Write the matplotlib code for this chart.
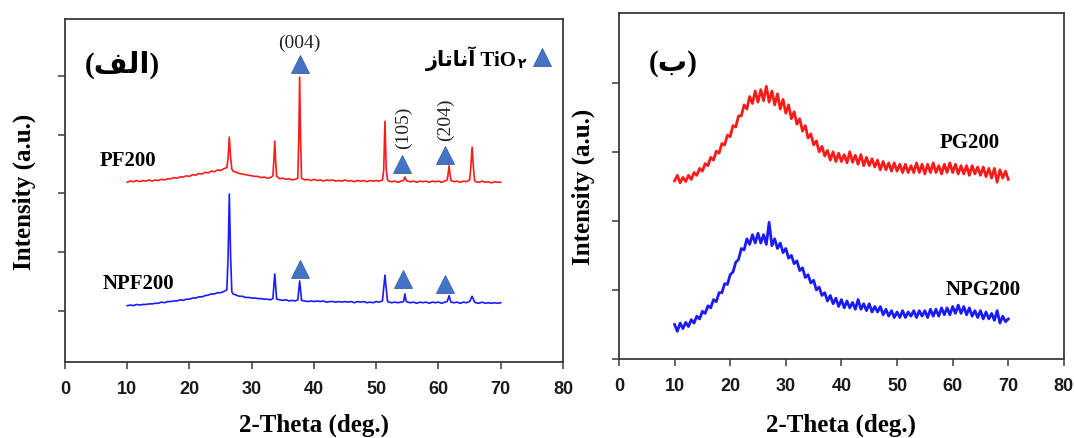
import matplotlib
matplotlib.use("Agg")
import matplotlib.pyplot as plt
import numpy as np

# ---------------- data ----------------
# Panel (a): XRD of films, 2-theta in degrees, intensity in arbitrary units (offset traces)
pf200_x = [10.0, 10.5, 11.0, 11.5, 12.0, 12.5, 13.0, 13.5, 14.0, 14.5, 15.0, 15.5, 16.0, 16.5,
           17.0, 17.5, 18.0, 18.5, 19.0, 19.5, 20.0, 20.5, 21.0, 21.5, 22.0, 22.5, 23.0, 23.5,
           24.0, 24.5, 25.0, 25.5, 26.0, 26.2, 26.4, 26.6, 26.8, 27.0, 27.5, 28.0, 28.5, 29.0,
           29.5, 30.0, 30.5, 31.0, 31.5, 32.0, 32.5, 33.0, 33.4, 33.55, 33.7, 33.85, 34.0, 34.5,
           35.0, 35.5, 36.0, 36.5, 37.0, 37.4, 37.55, 37.7, 37.85, 38.0, 38.5, 39.0, 39.5, 40.0,
           40.5, 41.0, 41.5, 42.0, 42.5, 43.0, 43.5, 44.0, 44.5, 45.0, 45.5, 46.0, 46.5, 47.0,
           47.5, 48.0, 48.5, 49.0, 49.5, 50.0, 50.5, 51.0, 51.2, 51.4, 51.6, 51.8, 52.0, 52.5,
           53.0, 53.5, 54.0, 54.4, 54.6, 54.8, 55.0, 55.5, 56.0, 56.5, 57.0, 57.5, 58.0, 58.5,
           59.0, 59.5, 60.0, 60.5, 61.0, 61.4, 61.55, 61.7, 61.85, 62.0, 62.5, 63.0, 63.5, 64.0,
           64.5, 65.0, 65.2, 65.4, 65.6, 65.8, 66.0, 66.5, 67.0, 67.5, 68.0, 68.5, 69.0, 69.5, 70.0]
pf200_y = [3.19, 3.21, 3.20, 3.22, 3.20, 3.22, 3.21, 3.23, 3.21, 3.23, 3.22, 3.24, 3.23, 3.25,
           3.25, 3.27, 3.26, 3.28, 3.28, 3.30, 3.29, 3.32, 3.31, 3.34, 3.33, 3.36, 3.35, 3.38,
           3.37, 3.40, 3.39, 3.42, 3.44, 3.60, 3.96, 3.62, 3.42, 3.38, 3.36, 3.34, 3.33, 3.32,
           3.31, 3.30, 3.29, 3.29, 3.27, 3.28, 3.26, 3.27, 3.30, 3.55, 3.89, 3.55, 3.29, 3.25,
           3.26, 3.24, 3.25, 3.23, 3.24, 3.26, 3.90, 4.98, 3.90, 3.26, 3.23, 3.24, 3.22, 3.24,
           3.22, 3.23, 3.21, 3.23, 3.22, 3.23, 3.21, 3.22, 3.21, 3.23, 3.21, 3.22, 3.20, 3.22,
           3.21, 3.22, 3.20, 3.22, 3.21, 3.22, 3.21, 3.23, 3.40, 4.23, 3.42, 3.24, 3.21, 3.20,
           3.21, 3.19, 3.21, 3.22, 3.28, 3.23, 3.21, 3.20, 3.21, 3.19, 3.21, 3.20, 3.21, 3.19,
           3.21, 3.20, 3.21, 3.19, 3.21, 3.23, 3.34, 3.47, 3.33, 3.22, 3.20, 3.21, 3.19, 3.21,
           3.20, 3.23, 3.45, 3.79, 3.45, 3.22, 3.20, 3.19, 3.21, 3.19, 3.20, 3.18, 3.20, 3.19, 3.19]

npf200_x = pf200_x
npf200_y = [1.09, 1.10, 1.09, 1.11, 1.10, 1.11, 1.11, 1.12, 1.12, 1.13, 1.13, 1.15, 1.14, 1.16,
            1.16, 1.17, 1.17, 1.19, 1.18, 1.20, 1.20, 1.22, 1.22, 1.24, 1.24, 1.26, 1.27, 1.29,
            1.29, 1.31, 1.31, 1.33, 1.36, 1.90, 2.99, 1.95, 1.33, 1.29, 1.27, 1.25, 1.25, 1.23,
            1.23, 1.22, 1.22, 1.21, 1.21, 1.20, 1.20, 1.19, 1.21, 1.42, 1.63, 1.42, 1.20, 1.19,
            1.18, 1.19, 1.17, 1.18, 1.17, 1.19, 1.35, 1.51, 1.35, 1.18, 1.17, 1.16, 1.17, 1.16,
            1.17, 1.16, 1.17, 1.15, 1.16, 1.16, 1.15, 1.16, 1.15, 1.16, 1.15, 1.16, 1.14, 1.16,
            1.15, 1.16, 1.14, 1.15, 1.14, 1.16, 1.15, 1.17, 1.40, 1.61, 1.38, 1.17, 1.15, 1.14,
            1.15, 1.14, 1.15, 1.16, 1.29, 1.17, 1.15, 1.14, 1.15, 1.13, 1.15, 1.14, 1.15, 1.13,
            1.15, 1.14, 1.15, 1.13, 1.15, 1.16, 1.21, 1.26, 1.20, 1.15, 1.14, 1.15, 1.13, 1.15,
            1.14, 1.16, 1.20, 1.25, 1.20, 1.15, 1.14, 1.13, 1.15, 1.13, 1.14, 1.13, 1.14, 1.13, 1.14]

# anatase TiO2 reflections marked with triangles: (x, y) and Miller indices
tri_top_x = [37.7, 54.2, 61.0]
tri_top_y = [5.20, 3.50, 3.66]
tri_bot_x = [37.7, 54.3, 61.0]
tri_bot_y = [1.71, 1.54, 1.46]
hkl_labels = ["(004)", "(105)", "(204)"]

# Panel (b): XRD of glass-like samples, sampled every 0.5 degree
pg_x = [10.0 + 0.5 * i for i in range(121)]
pg200_y = [2.58, 2.66, 2.55, 2.63, 2.57, 2.66, 2.60, 2.70, 2.66, 2.76, 2.72, 2.83, 2.80, 2.92,
           2.88, 3.01, 2.98, 3.12, 3.10, 3.24, 3.22, 3.38, 3.36, 3.52, 3.52, 3.68, 3.62, 3.80,
           3.70, 3.88, 3.72, 3.90, 3.74, 3.95, 3.72, 3.88, 3.68, 3.84, 3.62, 3.76, 3.56, 3.68,
           3.48, 3.58, 3.40, 3.48, 3.30, 3.38, 3.20, 3.26, 3.10, 3.16, 3.00, 3.08, 2.94, 3.02,
           2.88, 3.00, 2.86, 2.98, 2.86, 2.96, 2.84, 3.00, 2.85, 2.95, 2.82, 2.96, 2.80, 2.92,
           2.80, 2.90, 2.78, 2.88, 2.74, 2.86, 2.74, 2.84, 2.72, 2.84, 2.72, 2.82, 2.70, 2.82,
           2.70, 2.80, 2.70, 2.84, 2.70, 2.82, 2.68, 2.82, 2.70, 2.84, 2.70, 2.80, 2.68, 2.82,
           2.70, 2.84, 2.70, 2.82, 2.68, 2.80, 2.68, 2.80, 2.66, 2.80, 2.68, 2.78, 2.66, 2.78,
           2.64, 2.76, 2.62, 2.76, 2.56, 2.74, 2.62, 2.72, 2.60]
npg200_y = [0.50, 0.40, 0.52, 0.44, 0.53, 0.47, 0.57, 0.52, 0.62, 0.58, 0.69, 0.66, 0.77, 0.74,
            0.86, 0.83, 0.96, 0.96, 1.09, 1.08, 1.22, 1.26, 1.40, 1.44, 1.60, 1.58, 1.74, 1.66,
            1.80, 1.68, 1.82, 1.68, 1.80, 1.66, 1.98, 1.64, 1.74, 1.60, 1.68, 1.54, 1.60, 1.46,
            1.50, 1.38, 1.42, 1.28, 1.32, 1.18, 1.22, 1.10, 1.14, 1.00, 1.04, 0.92, 0.96, 0.84,
            0.92, 0.80, 0.88, 0.76, 0.86, 0.74, 0.84, 0.74, 0.82, 0.72, 0.86, 0.72, 0.80, 0.70,
            0.80, 0.68, 0.76, 0.68, 0.76, 0.64, 0.72, 0.62, 0.70, 0.60, 0.68, 0.60, 0.70, 0.60,
            0.68, 0.62, 0.70, 0.60, 0.70, 0.62, 0.70, 0.60, 0.72, 0.62, 0.72, 0.62, 0.74, 0.64,
            0.74, 0.64, 0.76, 0.66, 0.78, 0.66, 0.76, 0.64, 0.74, 0.62, 0.70, 0.60, 0.70, 0.58,
            0.68, 0.58, 0.66, 0.56, 0.70, 0.52, 0.62, 0.54, 0.58]

x_ticks = [0, 10, 20, 30, 40, 50, 60, 70, 80]

# Persian text, written in visual order with presentation forms
label_a = "(\uFED2\uFEDF\uFE8D)"          # (الف)
label_b = "(\uFE8F)"                      # (ب)
anatase = "\uFEAF\uFE8E\uFE97\uFE8E\uFEE7\uFE81"   # آناتاز
sub_two = "\u06F2"                        # ۲

# ---------------- drawing ----------------
SERIF = ["Liberation Serif", "DejaVu Sans"]
SANS = "Liberation Sans"
RED = "#ff1a1a"
BLUE = "#1a1aff"
TRI = "#4472C4"
TRI_EDGE = "#3b64ad"
SPINE = "#3a3a3a"

fig = plt.figure(figsize=(10.74, 4.39), dpi=100)
ax1 = fig.add_axes([0.0605, 0.173, 0.4637, 0.7815])
ax2 = fig.add_axes([0.5763, 0.180, 0.4143, 0.788])


def style(ax, xpad, ypad):
    for s in ax.spines.values():
        s.set_color(SPINE)
        s.set_linewidth(1.3)
    ax.set_xlim(0, 80)
    ax.set_xticks(x_ticks)
    ax.tick_params(axis="x", direction="out", length=5, width=1.1, color=SPINE,
                   labelsize=13, pad=8)
    ax.tick_params(axis="y", direction="out", length=5, width=1.1, color=SPINE,
                   labelleft=False)
    for lab in ax.get_xticklabels():
        lab.set_fontfamily(SANS)
        lab.set_fontweight("bold")
        lab.set_color("#1a1a1a")
    ax.set_xlabel("2-Theta (deg.)", fontfamily=SERIF, fontweight="bold", fontsize=18,
                  labelpad=xpad)
    ax.set_ylabel("Intensity (a.u.)", fontfamily=SERIF, fontweight="bold", fontsize=18,
                  labelpad=ypad)


# panel (a)
ax1.plot(pf200_x, pf200_y, color=RED, lw=1.2)
ax1.plot(npf200_x, npf200_y, color=BLUE, lw=1.2)
ax1.set_ylim(0.13, 5.97)
ax1.set_yticks([1, 2, 3, 4, 5])
style(ax1, 11, 16)

tri_kw = dict(linestyle="none", marker="^", markersize=12.5, color=TRI,
              markeredgecolor=TRI_EDGE, markeredgewidth=0.6)
ax1.plot(tri_top_x, tri_top_y, **tri_kw)
ax1.plot(tri_bot_x, tri_bot_y, **tri_kw)

ax1.text(37.7, 5.58, hkl_labels[0], ha="center", va="center", fontsize=14,
         fontfamily="Liberation Serif", color="#222222")
ax1.text(54.4, 4.14, hkl_labels[1], ha="center", va="center", fontsize=14, rotation=90,
         fontfamily="Liberation Serif", color="#222222")
ax1.text(61.2, 4.28, hkl_labels[2], ha="center", va="center", fontsize=14, rotation=90,
         fontfamily="Liberation Serif", color="#222222")

ax1.text(10.1, 3.57, "PF200", ha="center", va="center", fontsize=15,
         fontfamily="Liberation Serif", fontweight="bold")
ax1.text(11.8, 1.48, "NPF200", ha="center", va="center", fontsize=15,
         fontfamily="Liberation Serif", fontweight="bold")
ax1.text(9.2, 5.20, label_a, ha="center", va="center", fontsize=21,
         fontfamily=SERIF, fontweight="bold")

# legend-like key
ax1.plot([76.6], [5.32], **tri_kw)
ax1.text(72.6, 5.32, anatase + " TiO", ha="right", va="center", fontsize=15,
         fontfamily=SERIF, fontweight="bold")
ax1.text(72.7, 5.22, sub_two, ha="left", va="center", fontsize=10,
         fontfamily=SERIF, fontweight="bold")

# panel (b)
ax2.plot(pg_x, pg200_y, color=RED, lw=2.0)
ax2.plot(pg_x, npg200_y, color=BLUE, lw=2.0)
ax2.set_ylim(0, 5.01)
ax2.set_yticks([0, 1, 2, 3, 4])
style(ax2, 13, 12)

ax2.text(63.1, 3.14, "PG200", ha="center", va="center", fontsize=15,
         fontfamily="Liberation Serif", fontweight="bold")
ax2.text(65.4, 1.01, "NPG200", ha="center", va="center", fontsize=15,
         fontfamily="Liberation Serif", fontweight="bold")
ax2.text(9.7, 4.29, label_b, ha="center", va="center", fontsize=21,
         fontfamily=SERIF, fontweight="bold")

fig.savefig("out.png", dpi=100)
